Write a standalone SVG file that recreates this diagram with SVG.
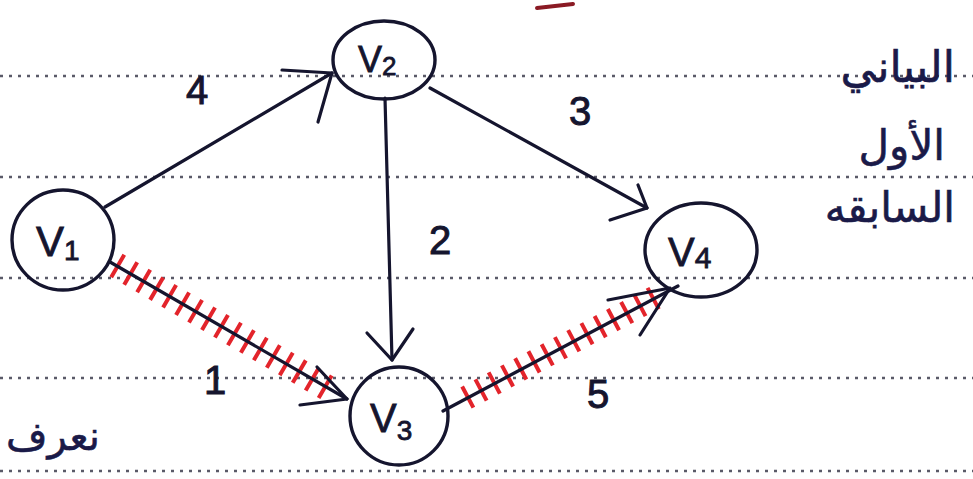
<svg xmlns="http://www.w3.org/2000/svg" width="973" height="479" viewBox="0 0 973 479">
<style>
.rule{stroke:#5a5a68;stroke-width:2.4;stroke-dasharray:3 6;fill:none}
.node{fill:none;stroke:#15152e;stroke-width:3.4}
.edge{fill:none;stroke:#15152e;stroke-width:3.2;stroke-linecap:round;stroke-linejoin:round}
.hatch{fill:none;stroke:#e3242b;stroke-dasharray:4 11}
.lbl{font-family:"Liberation Sans","DejaVu Sans",sans-serif;fill:#15152e;stroke:#15152e;stroke-width:0.8}
.w{font-family:"Liberation Sans","DejaVu Sans",sans-serif;font-size:40px;fill:#15152e;stroke:#15152e;stroke-width:1;text-anchor:middle}
.ar{font-family:"DejaVu Sans","Noto Sans",sans-serif;fill:#1a1a48;stroke:#1a1a48;stroke-width:0.6}
</style>
<rect width="973" height="479" fill="#ffffff"/>
<g id="paper-rules">
<line class="rule" x1="0" y1="76" x2="973" y2="76"/>
<line class="rule" x1="0" y1="177" x2="973" y2="177"/>
<line class="rule" x1="0" y1="278" x2="973" y2="278"/>
<line class="rule" x1="0" y1="378" x2="973" y2="378"/>
<line class="rule" x1="0" y1="471" x2="973" y2="471"/>
</g>
<g id="connectors">
<line class="hatch" x1="116" y1="265" x2="336" y2="393" stroke-width="26"/>
<line class="hatch" x1="466" y1="398" x2="656" y2="297" stroke-width="24"/>
<g id="e-v1-v2">
<path class="edge" d="M105,207 L332,73"/>
<path class="edge" d="M282,70 L332,73 L318,122"/>
<text class="w" x="197" y="104">4</text>
</g>
<g id="e-v2-v3">
<path class="edge" d="M385,98 L392,360"/>
<path class="edge" d="M367,333 L392,360 L413,329" stroke-width="4"/>
<text class="w" x="440" y="254">2</text>
</g>
<g id="e-v2-v4">
<path class="edge" d="M430,88 L647,208"/>
<path class="edge" d="M610,220 L647,208 L638,185"/>
<text class="w" x="580" y="125">3</text>
</g>
<g id="e-v1-v3">
<path class="edge" d="M110,262 L347,399"/>
<path class="edge" d="M300,405 L347,399 L317,367"/>
<text class="w" x="215" y="394">1</text>
</g>
<g id="e-v3-v4">
<path class="edge" d="M443,411 L678,286" stroke-width="3.8"/>
<path class="edge" d="M608,300 L670,288 L640,335"/>
<text class="w" x="598" y="408">5</text>
</g>
</g>
<g id="V1">
<ellipse class="node" cx="63" cy="240" rx="51" ry="50"/>
<text class="lbl" x="36" y="256" font-size="42">V<tspan font-size="28" dy="4">1</tspan></text>
</g>
<g id="V2">
<ellipse class="node" cx="384" cy="60" rx="51" ry="39"/>
<text class="lbl" x="358" y="72" font-size="36">V<tspan font-size="26" dy="3">2</tspan></text>
</g>
<g id="V3">
<ellipse class="node" cx="399" cy="416" rx="49" ry="49"/>
<text class="lbl" x="370" y="432" font-size="40">V<tspan font-size="28" dy="8">3</tspan></text>
</g>
<g id="V4">
<ellipse class="node" cx="701" cy="250" rx="56" ry="47"/>
<text class="lbl" x="668" y="266" font-size="40">V<tspan font-size="30" dy="2">4</tspan></text>
</g>
<g id="notes">
<path d="M537,8 L573,4" stroke="#8a1a24" stroke-width="4" stroke-linecap="round" fill="none"/>
<text class="ar" x="955" y="82" font-size="44" text-anchor="end">البياني</text>
<text class="ar" x="945" y="160" font-size="42" text-anchor="end">الأول</text>
<text class="ar" x="955" y="222" font-size="42" text-anchor="end">السابقه</text>
<text class="ar" x="6" y="450" font-size="40">نعرف</text>
</g>
</svg>
